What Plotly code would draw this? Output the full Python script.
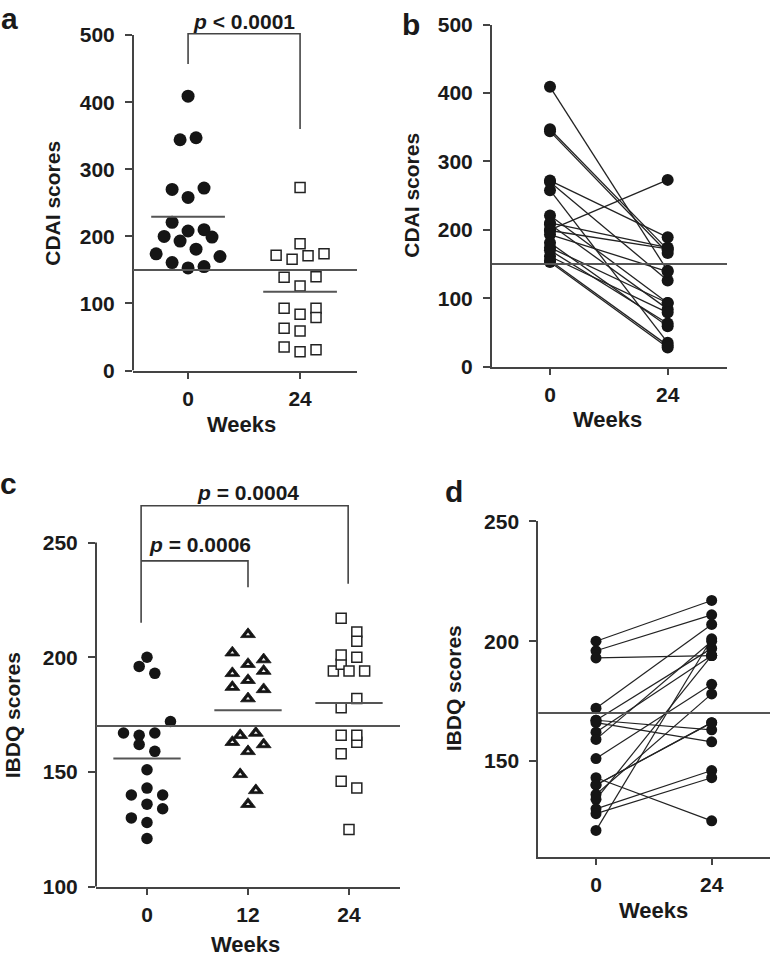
import numpy as np
import plotly.graph_objects as go

W, H = 770, 958

# ---------------- data ----------------
cdai_weeks = [0, 24]
cdai_w0 = [409, 347, 344, 272, 270, 258, 221, 210, 208, 200, 199, 193, 181, 174, 170, 161, 155, 153]
cdai_w24 = [140, 171, 166, 189, 126, 35, 93, 174, 84, 273, 172, 139, 59, 93, 63, 79, 31, 28]
# beeswarm slot (column) of each point in panel a
cdai_slot_w0 = [0, 1, -1, 2, -2, 0, -2, 2, 0, -3, 3, -1, 1, -4, 4, -2, 2, 0]
cdai_slot_w24 = [2, 1, -1, 0, 0, -2, -2, 3, 0, 0, -3, -2, 0, 2, -2, 2, 2, 0]
cdai_threshold = 150
cdai_ticks = [0, 100, 200, 300, 400, 500]

ibdq_weeks = [0, 12, 24]
ibdq_w0 = [200, 196, 193, 172, 167, 167, 166, 162, 159, 151, 143, 140, 140, 136, 134, 130, 128, 121]
ibdq_w24 = [217, 211, 194, 207, 197, 163, 158, 194, 200, 182, 125, 166, 166, 178, 194, 146, 143, 201]
ibdq_w12 = [210, 202, 199, 197, 194, 193, 190, 187, 186, 182, 167, 166, 163, 162, 159, 149, 142, 136]
ibdq_slot_w0 = [0, -1, 1, 3, -3, 1, -1, -1, 1, 0, 0, -2, 2, 0, 2, -2, 0, 0]
ibdq_slot_w12 = [0, -2, 2, 0, 2, -2, 0, -2, 2, 0, 1, -1, -2, 2, 0, -1, 1, 0]
ibdq_slot_w24 = [-1, 1, -2, 1, -1, 1, -1, 0, 1, 1, 0, -1, 1, -1, 2, -1, 1, -1]
ibdq_threshold = 170
ibdq_ticks_c = [100, 150, 200, 250]
ibdq_ticks_d = [150, 200, 250]

p_a = "<i>p</i> &lt; 0.0001"
p_c_24 = "<i>p</i> = 0.0004"
p_c_12 = "<i>p</i> = 0.0006"

# ---------------- style ----------------
FONT = "Arial, Liberation Sans, Helvetica, sans-serif"
TXT = "#1a1a1a"
AX = "#444444"
DOT = "#151515"
FS = 21

def fx(px):
    return px / W

def fy(py, lo=0.0):
    # vertical pixel target -> paper fraction
    p = (py - 10.05) / 0.977
    p = max(p, lo)
    return 1 - p / H

slot_a = 1.71   # weeks per beeswarm column, panel a
slot_c = 0.93   # weeks per beeswarm column, panel c

fig = go.Figure()

# ---- panel a ----
fig.add_trace(go.Scatter(
    x=[cdai_weeks[0] + s * slot_a for s in cdai_slot_w0], y=cdai_w0,
    mode="markers", xaxis="x", yaxis="y",
    marker=dict(symbol="circle", size=13, color=DOT, line=dict(width=0)),
))
fig.add_trace(go.Scatter(
    x=[cdai_weeks[1] + s * slot_a for s in cdai_slot_w24], y=cdai_w24,
    mode="markers", xaxis="x", yaxis="y",
    marker=dict(symbol="square", size=10, color="white", line=dict(width=1.5, color="#222")),
))

# ---- panel b ----
bx, by = [], []
for a, b in zip(cdai_w0, cdai_w24):
    bx += [cdai_weeks[0], cdai_weeks[1], None]
    by += [a, b, None]
fig.add_trace(go.Scatter(
    x=bx, y=by, mode="lines+markers", xaxis="x2", yaxis="y2",
    line=dict(color="#222", width=1.3),
    marker=dict(symbol="circle", size=12, color=DOT),
))

# ---- panel c ----
fig.add_trace(go.Scatter(
    x=[ibdq_weeks[0] + s * slot_c for s in ibdq_slot_w0], y=ibdq_w0,
    mode="markers", xaxis="x3", yaxis="y3",
    marker=dict(symbol="circle", size=11.5, color=DOT),
))
tri_x = [ibdq_weeks[1] + s * slot_c for s in ibdq_slot_w12]
fig.add_trace(go.Scatter(
    x=tri_x, y=ibdq_w12,
    mode="markers", xaxis="x3", yaxis="y3",
    marker=dict(symbol="triangle-up", size=13, color=DOT, line=dict(width=0.8, color=DOT)),
))
fig.add_trace(go.Scatter(
    x=tri_x, y=ibdq_w12,
    mode="markers", xaxis="x3", yaxis="y3",
    marker=dict(symbol="triangle-up", size=3.5, color="#f2f2f2", line=dict(width=0)),
))
fig.add_trace(go.Scatter(
    x=[ibdq_weeks[2] + s * slot_c for s in ibdq_slot_w24], y=ibdq_w24,
    mode="markers", xaxis="x3", yaxis="y3",
    marker=dict(symbol="square", size=10, color="white", line=dict(width=1.5, color="#222")),
))

# ---- panel d ----
dx, dy = [], []
for a, b in zip(ibdq_w0, ibdq_w24):
    dx += [ibdq_weeks[0], ibdq_weeks[2], None]
    dy += [a, b, None]
fig.add_trace(go.Scatter(
    x=dx, y=dy, mode="lines+markers", xaxis="x4", yaxis="y4",
    line=dict(color="#222", width=1.2),
    marker=dict(symbol="circle", size=11, color=DOT),
))

tickfont = dict(family=FONT, size=FS, color=TXT, weight="bold")

def xax(domain, rng, vals, anchor):
    return dict(domain=domain, range=rng, tickvals=vals, ticktext=[str(v) for v in vals],
                anchor=anchor, showline=True, linewidth=2, linecolor=AX,
                ticks="outside", ticklen=6, tickwidth=2, tickcolor=AX,
                showgrid=False, zeroline=False, tickfont=tickfont, ticklabelstandoff=2,
                fixedrange=True)

def yax(domain, rng, vals, anchor, showline):
    return dict(domain=domain, range=rng, tickvals=vals, ticktext=[str(v) for v in vals],
                anchor=anchor, showline=showline, linewidth=2, linecolor=AX,
                ticks="outside", ticklen=7, tickwidth=2, tickcolor=AX,
                showgrid=False, zeroline=False, tickfont=tickfont, ticklabelstandoff=6,
                fixedrange=True)

fig.update_layout(
    width=W, height=H, margin=dict(l=0, r=0, t=0, b=0),
    paper_bgcolor="white", plot_bgcolor="white", showlegend=False,
    xaxis=xax([fx(133), fx(357)], [-11.8, 36.2], cdai_weeks, "y"),
    yaxis=yax([fy(369), fy(13)], [0, 530], cdai_ticks, "x", False),
    xaxis2=xax([fx(492), fx(727)], [-11.83, 36.1], cdai_weeks, "y2"),
    yaxis2=yax([fy(365), fy(22.7)], [0, 500], cdai_ticks, "x2", True),
    xaxis3=xax([fx(96), fx(400)], [-6.06, 30.06], ibdq_weeks, "y3"),
    yaxis3=yax([fy(885.7), fy(449)], [100, 290.1], ibdq_ticks_c, "x3", False),
    xaxis4=xax([fx(538.3), 1.0], [-11.97, 36.1], [ibdq_weeks[0], ibdq_weeks[2]], "y4"),
    yaxis4=yax([fy(855.7), fy(520)], [110, 250], ibdq_ticks_d, "x4", True),
)

shapes = []
line_ax = dict(color=AX, width=2)
# partial y-axis lines (panels a and c)
shapes.append(dict(type="line", xref="x domain", yref="y", x0=0, x1=0,
                   y0=cdai_ticks[0], y1=cdai_ticks[-1], line=line_ax))
shapes.append(dict(type="line", xref="x3 domain", yref="y3", x0=0, x1=0,
                   y0=ibdq_ticks_c[0], y1=ibdq_ticks_c[-1], line=line_ax))
# threshold lines
ref = dict(color="#555", width=2)
for xr, yr, v in [("x", "y", cdai_threshold), ("x2", "y2", cdai_threshold),
                  ("x3", "y3", ibdq_threshold), ("x4", "y4", ibdq_threshold)]:
    shapes.append(dict(type="line", xref=xr + " domain", yref=yr, x0=0, x1=1, y0=v, y1=v, line=ref))
# mean lines
mean_line = dict(color="#555", width=2)
for wk, vals in [(cdai_weeks[0], cdai_w0), (cdai_weeks[1], cdai_w24)]:
    m = float(np.mean(vals))
    shapes.append(dict(type="line", xref="x", yref="y", x0=wk - 7.9, x1=wk + 7.9, y0=m, y1=m, line=mean_line))
for wk, vals in [(ibdq_weeks[0], ibdq_w0), (ibdq_weeks[1], ibdq_w12), (ibdq_weeks[2], ibdq_w24)]:
    m = float(np.mean(vals))
    shapes.append(dict(type="line", xref="x3", yref="y3", x0=wk - 4.0, x1=wk + 4.0, y0=m, y1=m, line=mean_line))
# significance brackets
br = dict(color=AX, width=1.6)
shapes.append(dict(type="path", xref="x", yref="y",
                   path=f"M {cdai_weeks[0]},457 L {cdai_weeks[0]},502 L {cdai_weeks[1]},502 L {cdai_weeks[1]},360",
                   line=br))
shapes.append(dict(type="path", xref="x3", yref="y3",
                   path=f"M -0.7,215 L -0.7,266 L {ibdq_weeks[2] - 0.1},266 L {ibdq_weeks[2] - 0.1},232",
                   line=br))
shapes.append(dict(type="path", xref="x3", yref="y3",
                   path=f"M -0.7,242 L {ibdq_weeks[1]},242 L {ibdq_weeks[1]},230.5",
                   line=br))
fig.update_layout(shapes=shapes)

ann = []
def txt(text, x, y, xref="paper", yref="paper", size=FS, angle=0, xanchor="center"):
    ann.append(dict(text=text, x=x, y=y, xref=xref, yref=yref, showarrow=False,
                    xanchor=xanchor, yanchor="middle", textangle=angle,
                    font=dict(family=FONT, size=size, color=TXT, weight="bold")))

# panel letters
txt("a", fx(9), fy(10, lo=7), size=30)
txt("b", fx(411), fy(13, lo=13), size=30)
txt("c", fx(8), fy(482), size=30)
txt("d", fx(454), fy(490), size=30)
# axis titles
txt("CDAI scores", fx(53), fy(201), angle=-90)
txt("CDAI scores", fx(412), fy(193), angle=-90)
txt("IBDQ scores", fx(12), fy(714), angle=-90)
txt("IBDQ scores", fx(453), fy(687), angle=-90)
txt("Weeks", fx(241), fy(423), size=22)
txt("Weeks", fx(607), fy(418), size=22)
txt("Weeks", fx(245), fy(944), size=22)
txt("Weeks", fx(653), fy(909), size=22)
# p values
txt(p_a, 12, 0.5, xref="x", yref="paper")
ann[-1]["y"] = fy(13.5, lo=10)
txt(p_c_24, 12, 272, xref="x3", yref="y3")
txt(p_c_12, 0, 249, xref="x3", yref="y3", xanchor="left")
fig.update_layout(annotations=ann)

fig.write_html("out.html", config={"displayModeBar": False},
               post_script="document.body.style.margin='0';document.body.style.overflow='hidden';")
